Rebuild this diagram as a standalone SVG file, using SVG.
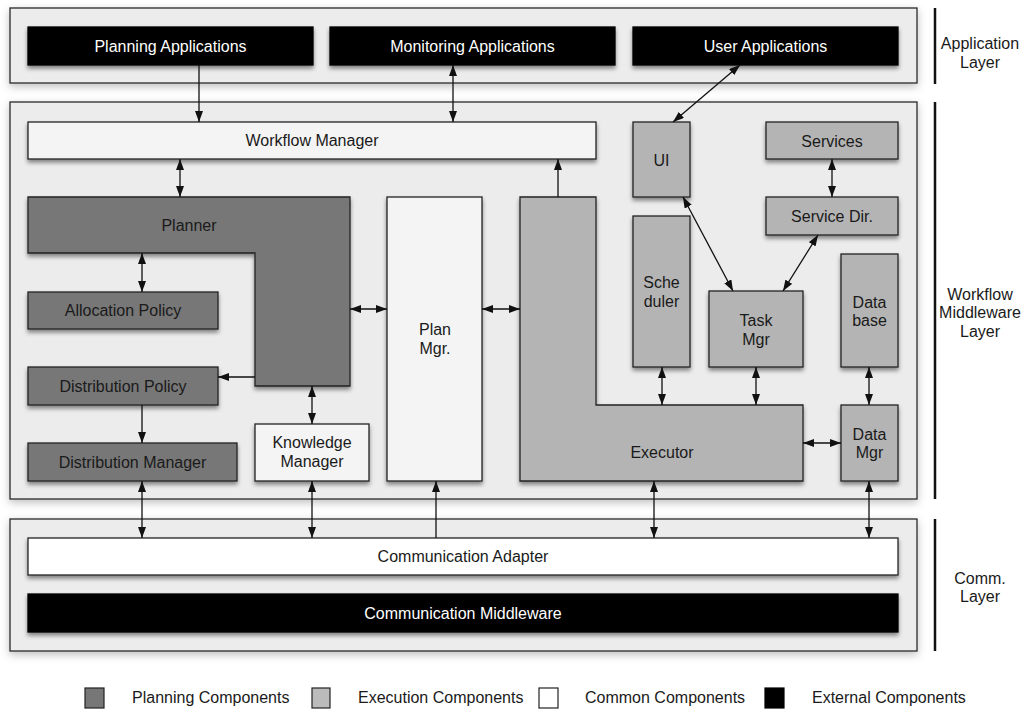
<svg xmlns="http://www.w3.org/2000/svg" width="1031" height="709" viewBox="0 0 1031 709">
<defs>
<filter id="sh" x="-20%" y="-20%" width="140%" height="150%">
<feDropShadow dx="0" dy="3" stdDeviation="2.2" flood-color="#000" flood-opacity="0.45"/>
</filter>
<filter id="lsh" x="-5%" y="-10%" width="110%" height="125%">
<feDropShadow dx="0" dy="3" stdDeviation="4" flood-color="#000" flood-opacity="0.25"/>
</filter>
<marker id="ah" viewBox="0 0 11 8" refX="11" refY="4" markerWidth="11" markerHeight="8" markerUnits="userSpaceOnUse" orient="auto-start-reverse">
<path d="M0,0 L11,4 L0,8 z" fill="#111"/>
</marker>
<style>
text{font-family:"Liberation Sans",Arial,sans-serif;font-size:16px;text-anchor:middle;fill:#1a1a1a}
.layer{fill:#ececec;stroke:#2a2a2a;stroke-width:1.3;filter:url(#lsh)}
.plan{fill:#777777;stroke:#222;stroke-width:1.3;filter:url(#sh)}
.exec{fill:#b4b4b4;stroke:#222;stroke-width:1.3;filter:url(#sh)}
.comm{fill:#f4f4f4;stroke:#222;stroke-width:1.3;filter:url(#sh)}
.white{fill:#ffffff;stroke:#222;stroke-width:1.3;filter:url(#sh)}
.ext{fill:#000;stroke:#000;stroke-width:1.3;filter:url(#sh)}
.wt{fill:#fff}
.sep{stroke:#111;stroke-width:2.5}
.c{stroke:#111;stroke-width:1.3;fill:none}
.b{marker-start:url(#ah);marker-end:url(#ah)}
.e{marker-end:url(#ah)}
.lg{text-anchor:start}
</style>
</defs>

<g id="layers">
<rect id="application-layer" class="layer" x="10" y="8" width="907" height="75"/>
<rect id="workflow-layer" class="layer" x="10" y="102" width="907" height="397"/>
<rect id="comm-layer" class="layer" x="10" y="519" width="907" height="132"/>
</g>

<g id="layer-labels">
<line class="sep" x1="935" y1="8" x2="935" y2="84"/>
<line class="sep" x1="935" y1="102" x2="935" y2="499"/>
<line class="sep" x1="935" y1="519" x2="935" y2="651"/>
<text x="980" y="49">Application</text>
<text x="980" y="67.5">Layer</text>
<text x="980" y="299.5">Workflow</text>
<text x="980" y="318">Middleware</text>
<text x="980" y="336.5">Layer</text>
<text x="980" y="584">Comm.</text>
<text x="980" y="602">Layer</text>
</g>

<g id="planning-applications"><rect class="ext" x="28" y="27" width="285" height="38"/><text class="wt" x="170.5" y="51.5">Planning Applications</text></g>
<g id="monitoring-applications"><rect class="ext" x="330" y="27" width="285" height="38"/><text class="wt" x="472.5" y="51.5">Monitoring Applications</text></g>
<g id="user-applications"><rect class="ext" x="633" y="27" width="265" height="38"/><text class="wt" x="765.5" y="51.5">User Applications</text></g>

<g id="workflow-manager"><rect class="comm" x="28" y="122" width="568" height="37"/><text x="312" y="146">Workflow Manager</text></g>
<g id="planner"><path class="plan" d="M28,197 H350 V386 H255 V253 H28 Z"/><text x="189" y="231">Planner</text></g>
<g id="allocation-policy"><rect class="plan" x="28" y="292" width="190" height="37"/><text x="123" y="316">Allocation Policy</text></g>
<g id="distribution-policy"><rect class="plan" x="28" y="367" width="190" height="38"/><text x="123" y="391.5">Distribution Policy</text></g>
<g id="distribution-manager"><rect class="plan" x="28" y="443" width="209" height="38"/><text x="132.5" y="467.5">Distribution Manager</text></g>
<g id="knowledge-manager"><rect class="comm" x="255" y="424" width="114" height="57"/><text x="312" y="447.5">Knowledge</text><text x="312" y="466.5">Manager</text></g>
<g id="plan-mgr"><rect class="comm" x="387" y="197" width="95" height="284"/><text x="435" y="335">Plan</text><text x="435" y="353.5">Mgr.</text></g>
<g id="executor"><path class="exec" d="M520,197 H596 V405 H803 V481 H520 Z"/><text x="662" y="458">Executor</text></g>
<g id="ui"><rect class="exec" x="633" y="122" width="57" height="75"/><text x="661.5" y="166">UI</text></g>
<g id="services"><rect class="exec" x="766" y="122" width="132" height="37"/><text x="832" y="146.5">Services</text></g>
<g id="service-dir"><rect class="exec" x="766" y="197" width="132" height="38"/><text x="832" y="222">Service Dir.</text></g>
<g id="scheduler"><rect class="exec" x="633" y="216" width="57" height="151"/><text x="661.5" y="288">Sche</text><text x="661.5" y="306.5">duler</text></g>
<g id="task-mgr"><rect class="exec" x="709" y="291" width="94" height="76"/><text x="756" y="326">Task</text><text x="756" y="344.5">Mgr</text></g>
<g id="database"><rect class="exec" x="841" y="254" width="57" height="113"/><text x="869.5" y="307.5">Data</text><text x="869.5" y="326">base</text></g>
<g id="data-mgr"><rect class="exec" x="841" y="405" width="57" height="76"/><text x="869.5" y="439.5">Data</text><text x="869.5" y="457.5">Mgr</text></g>

<g id="communication-adapter"><rect class="white" x="28" y="538" width="870" height="37"/><text x="463" y="562">Communication Adapter</text></g>
<g id="communication-middleware"><rect class="ext" x="28" y="594" width="870" height="38"/><text class="wt" x="463" y="618.5">Communication Middleware</text></g>

<g id="connectors">
<line class="c e" x1="199" y1="65" x2="199" y2="122"/>
<line class="c b" x1="453" y1="65" x2="453" y2="122"/>
<line class="c b" x1="740" y1="65" x2="673" y2="122"/>
<line class="c b" x1="180" y1="159" x2="180" y2="197"/>
<line class="c e" x1="558" y1="197" x2="558" y2="159"/>
<line class="c b" x1="142" y1="253" x2="142" y2="292"/>
<line class="c e" x1="255" y1="377" x2="218" y2="377"/>
<line class="c e" x1="142" y1="405" x2="142" y2="443"/>
<line class="c b" x1="312" y1="386" x2="312" y2="424"/>
<line class="c b" x1="350" y1="309" x2="387" y2="309"/>
<line class="c b" x1="482" y1="309" x2="520" y2="309"/>
<line class="c b" x1="683" y1="197" x2="733" y2="291"/>
<line class="c b" x1="832" y1="159" x2="832" y2="197"/>
<line class="c b" x1="818" y1="235" x2="783" y2="291"/>
<line class="c b" x1="662" y1="367" x2="662" y2="405"/>
<line class="c b" x1="756" y1="367" x2="756" y2="405"/>
<line class="c b" x1="869" y1="367" x2="869" y2="405"/>
<line class="c b" x1="803" y1="443" x2="841" y2="443"/>
<line class="c b" x1="142" y1="481" x2="142" y2="538"/>
<line class="c b" x1="312" y1="481" x2="312" y2="538"/>
<line class="c e" x1="436" y1="538" x2="436" y2="481"/>
<line class="c b" x1="654" y1="481" x2="654" y2="538"/>
<line class="c b" x1="869" y1="481" x2="869" y2="538"/>
</g>

<g id="legend">
<rect x="85" y="688" width="19" height="20" fill="#777" stroke="#222" stroke-width="1.2"/>
<text class="lg" x="132" y="703">Planning Components</text>
<rect x="312" y="688" width="18" height="20" fill="#bbb" stroke="#222" stroke-width="1.2"/>
<text class="lg" x="358" y="703">Execution Components</text>
<rect x="539" y="688" width="19" height="20" fill="#fff" stroke="#222" stroke-width="1.2"/>
<text class="lg" x="585" y="703">Common Components</text>
<rect x="765" y="688" width="19" height="20" fill="#000" stroke="#000" stroke-width="1.2"/>
<text class="lg" x="812" y="703">External Components</text>
</g>
</svg>
